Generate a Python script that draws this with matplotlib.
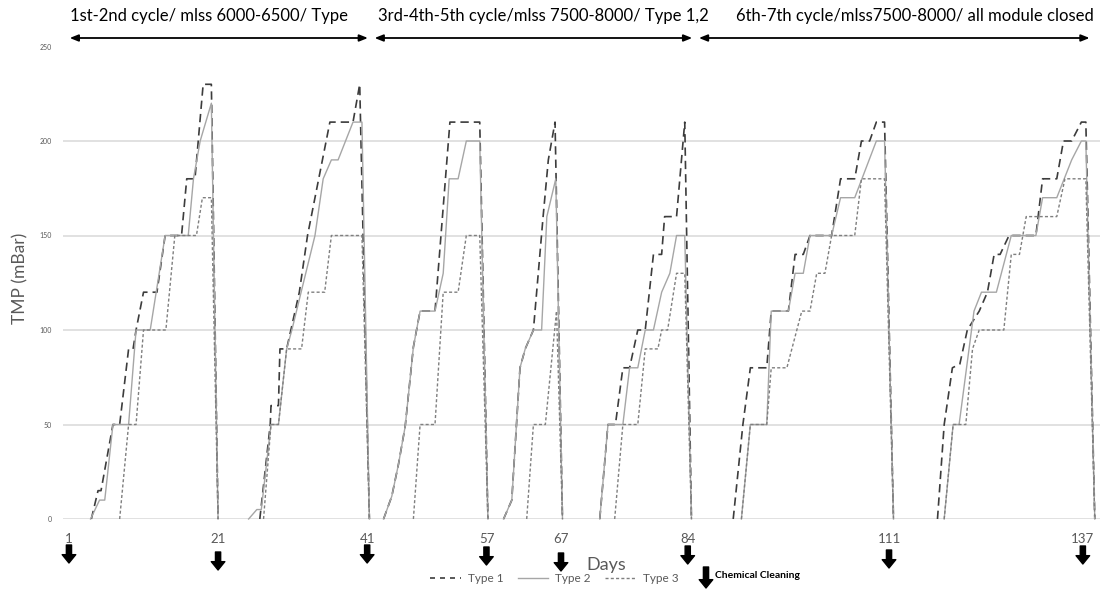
import numpy as np
import matplotlib
matplotlib.use("Agg")
import matplotlib.pyplot as plt
from matplotlib.lines import Line2D

plt.rcParams['font.family'] = ['Lato', 'DejaVu Sans']

nan = np.nan

# Type 1 (heavy dashed)
type1_days = [4.0, 4.9, 5.3, 6.9, 7.8, 9.0, 9.6, 10.0, 11.0, 12.8, 13.9, 16.1, 16.8, 17.9, 19.0, 20.1, 21.0, nan,
              26.6, 28.0, 28.1, 29.1, 29.3, 30.2, 31.9, 33.0, 36.0, 39.1, 40.0, 41.3, nan,
              43.2, 44.3, 45.2, 46.1, 47.2, 48.1, 50.1, 52.1, 56.1, 57.2, nan,
              59.3, 60.4, 61.5, 62.2, 63.3, 64.6, 65.3, 66.2, 67.2, nan,
              72.2, 73.3, 74.3, 75.3, 76.2, 77.3, 78.3, 79.4, 80.5, 80.9, 82.5, 83.6, 84.5, nan,
              90.1, 91.4, 92.4, 94.6, 95.2, 97.5, 98.4, 99.5, 100.4, 103.3, 104.5, 106.4, 107.3, 108.4, 109.3, 110.4, 111.6, nan,
              117.5, 118.4, 119.5, 120.5, 121.5, 123.1, 124.2, 125.1, 125.9, 127.1, 130.7, 131.6, 133.5, 134.4, 135.5, 136.8, 137.4, 138.6]
type1_tmp = [0, 15, 15, 50, 50, 90, 90, 100, 120, 120, 150, 150, 180, 180, 230, 230, 0, nan,
             0, 50, 60, 60, 90, 90, 120, 150, 210, 210, 230, 0, nan,
             0, 12, 29, 49, 91, 110, 110, 210, 210, 0, nan,
             0, 10, 80, 90, 100, 160, 190, 210, 0, nan,
             0, 50, 50, 80, 80, 100, 100, 140, 140, 160, 160, 210, 0, nan,
             0, 50, 80, 80, 110, 110, 140, 140, 150, 150, 180, 180, 200, 200, 210, 210, 0, nan,
             0, 50, 80, 82, 100, 110, 120, 140, 140, 150, 150, 180, 180, 200, 200, 210, 210, 0]

# Type 2 (solid)
type2_days = [3.9, 5.1, 5.8, 6.9, 9.0, 10.0, 11.9, 13.9, 17.0, 17.7, 18.6, 20.1, 21.0, nan,
              25.1, 26.2, 26.8, 28.1, 29.1, 30.2, 30.9, 34.0, 35.1, 36.2, 37.1, 39.1, 40.3, 41.3, nan,
              43.2, 44.3, 45.2, 46.1, 47.2, 48.1, 50.1, 51.2, 52.0, 53.2, 54.3, 56.1, 57.2, nan,
              59.3, 60.4, 61.5, 62.2, 63.3, 64.4, 65.1, 66.3, 67.2, nan,
              72.2, 73.3, 75.3, 76.2, 77.3, 78.3, 79.4, 80.5, 81.6, 82.5, 83.6, 84.5, nan,
              91.2, 92.4, 94.6, 95.2, 97.5, 98.4, 99.5, 100.4, 103.3, 104.5, 106.4, 109.3, 110.4, 111.6, nan,
              118.4, 119.6, 120.4, 121.4, 122.4, 123.4, 125.4, 127.4, 130.7, 131.6, 133.5, 135.5, 136.8, 137.4, 138.6]
type2_tmp = [0, 10, 10, 50, 50, 100, 100, 150, 150, 180, 200, 220, 0, nan,
             0, 5, 5, 50, 50, 90, 100, 150, 180, 190, 190, 210, 210, 0, nan,
             0, 12, 29, 49, 91, 110, 110, 130, 180, 180, 200, 200, 0, nan,
             0, 10, 80, 90, 100, 100, 160, 180, 0, nan,
             0, 50, 50, 80, 80, 100, 100, 120, 130, 150, 150, 0, nan,
             0, 50, 50, 110, 110, 130, 130, 150, 150, 170, 170, 200, 200, 0, nan,
             0, 50, 50, 80, 110, 120, 120, 150, 150, 170, 170, 190, 200, 200, 0]

# Type 3 (light dashed)
type3_days = [7.8, 9.0, 10.0, 11.0, 14.0, 15.2, 18.1, 18.9, 20.1, 21.0, nan,
              27.1, 28.1, 29.1, 30.2, 32.2, 33.1, 35.3, 36.2, 40.3, 41.3, nan,
              47.2, 48.1, 50.1, 51.2, 53.2, 54.3, 56.1, 57.2, nan,
              62.4, 63.3, 64.9, 66.4, 67.2, nan,
              74.2, 75.3, 77.3, 78.3, 80.0, 80.5, 81.3, 82.5, 83.6, 84.5, nan,
              91.2, 92.4, 94.6, 95.2, 97.3, 99.3, 100.4, 101.3, 102.4, 103.3, 106.4, 107.3, 110.4, 111.6, nan,
              118.4, 119.6, 121.3, 122.2, 123.1, 126.4, 127.4, 128.5, 129.4, 133.5, 134.6, 137.4, 138.6]
type3_tmp = [0, 50, 50, 100, 100, 150, 150, 170, 170, 0, nan,
             0, 50, 50, 90, 90, 120, 120, 150, 150, 0, nan,
             0, 50, 50, 120, 120, 150, 150, 0, nan,
             0, 50, 50, 110, 0, nan,
             0, 50, 50, 90, 90, 100, 100, 130, 130, 0, nan,
             0, 50, 50, 80, 80, 110, 110, 130, 130, 150, 150, 180, 180, 0, nan,
             0, 50, 50, 90, 100, 100, 140, 140, 160, 160, 180, 180, 0]

cleaning_days = [1, 21, 41, 57, 67, 84, 111, 137]
period_labels = ['1st-2nd cycle/ mlss 6000-6500/ Type',
                 '3rd-4th-5th cycle/mlss 7500-8000/ Type 1,2',
                 '6th-7th cycle/mlss7500-8000/ all module closed']
period_spans = [(1.1, 41.1), (42.0, 84.6), (85.5, 137.9)]

W, H = 1105, 590
fig = plt.figure(figsize=(W / 100, H / 100), dpi=100)
ax = fig.add_axes([63 / W, 1 - 519 / H, 1037 / W, (519 - 46.5) / H])

ax.set_xlim(0.2, 139.3)
ax.set_ylim(0, 250)
for s in ax.spines.values():
    s.set_visible(False)
ax.set_yticks(range(0, 251, 50))
ax.yaxis.grid(True, color='#d9d9d9', lw=1.1)
ax.set_axisbelow(True)
ax.tick_params(axis='y', length=0, pad=8, labelsize=5, labelcolor='#595959')
ax.set_xticks(cleaning_days)
ax.set_xticklabels([str(d) for d in cleaning_days])
ax.tick_params(axis='x', length=0, pad=10, labelsize=9.5, labelcolor='#595959')

ax.plot(type1_days, type1_tmp, color='#3c3c3c', lw=1.2, dashes=(5, 3), clip_on=False)
ax.plot(type2_days, type2_tmp, color='#a6a6a6', lw=1.0, clip_on=False)
ax.plot(type3_days, type3_tmp, color='#7f7f7f', lw=1.0, dashes=(2.2, 1.6), clip_on=False)

fig.text(20 / W, 1 - 278 / H, 'TMP (mBar)', rotation=90, ha='center', va='center',
         fontsize=12.5, color='#595959')
fig.text(606 / W, 1 - 565 / H, 'Days', ha='center', va='center', fontsize=13, color='#595959')

# chemical cleaning arrows
arrow_tops = [545, 552, 545, 547, 553, 546, 550, 546]
astyle = 'simple,head_length=0.4,head_width=0.65,tail_width=0.25'
for d, top in zip(cleaning_days, arrow_tops):
    ax.annotate('', xy=(d, 1 - (top + 18) / H), xytext=(d, 1 - top / H),
                xycoords=('data', 'figure fraction'), annotation_clip=False,
                arrowprops=dict(arrowstyle=astyle, color='black', mutation_scale=15,
                                shrinkA=0, shrinkB=0))

# period headers
text_x = [70, 378, 736]
for (a, b), lab, tx in zip(period_spans, period_labels, text_x):
    ax.annotate('', xy=(b, 1 - 38 / H), xytext=(a, 1 - 38 / H),
                xycoords=('data', 'figure fraction'), annotation_clip=False,
                arrowprops=dict(arrowstyle='<|-|>,head_length=0.5,head_width=0.2', color='black',
                                lw=1.3, shrinkA=0, shrinkB=0))
    fig.text(tx / W, 1 - 16 / H, lab, ha='left', va='center', fontsize=12, color='black')

# legend
handles = [Line2D([], [], color='#3c3c3c', lw=1.2, dashes=(3, 3)),
           Line2D([], [], color='#a6a6a6', lw=1.0),
           Line2D([], [], color='#7f7f7f', lw=1.0, dashes=(2.2, 1.6))]
fig.legend(handles, ['Type 1', 'Type 2', 'Type 3'], loc='center left',
           bbox_to_anchor=(430 / W, 1 - 579 / H), ncol=3, frameon=False, fontsize=8.5,
           labelcolor='#595959', handlelength=2.6, handletextpad=0.6, columnspacing=1.2,
           borderpad=0, borderaxespad=0)
fig.add_artist(matplotlib.patches.FancyArrowPatch(
    (706 / W, 1 - 567 / H), (706 / W, 1 - 588 / H), transform=fig.transFigure,
    arrowstyle=astyle, color='black', mutation_scale=15, shrinkA=0, shrinkB=0))
fig.text(715 / W, 1 - 575 / H, 'Chemical Cleaning', ha='left', va='center',
         fontsize=7.5, fontweight='bold', color='black')

fig.savefig('out.png', dpi=100)
